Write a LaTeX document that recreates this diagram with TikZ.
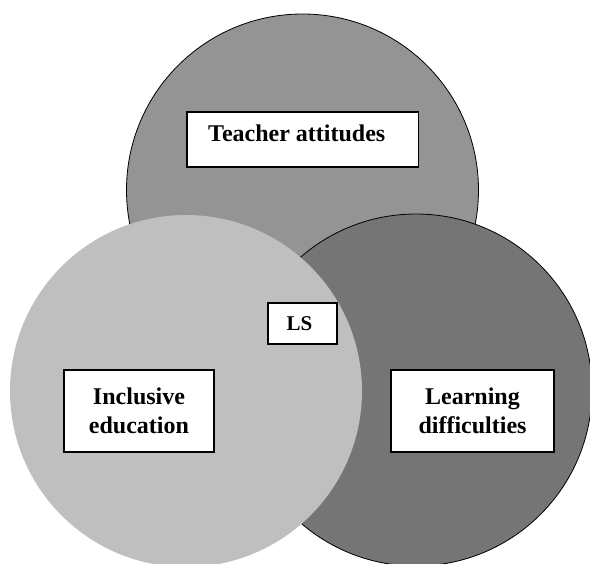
\documentclass[tikz,border=0pt]{standalone}
\usepackage{fontspec}
\setmainfont{Liberation Serif}
\begin{document}
\begin{tikzpicture}[x=1pt, y=-1pt,
	set/.style={circle, inner sep=0pt, minimum size=352pt, line width=0.8pt},
	topic/.style={draw, fill=white, line width=1.2pt, inner sep=2pt, align=center,
		font=\fontsize{24}{29}\selectfont\bfseries}]
	\useasboundingbox (0,0) rectangle (590,564);
	\begin{scope}
		\clip (0,0) rectangle (590,564);
		\node[set, draw, fill=black!42] (attitudes) at (302.5,190) {};
		\node[set, draw, fill=black!54] (difficulties) at (416,390) {};
		\node[set, fill=black!25] (inclusion) at (186,391) {};
	\end{scope}
	
	\node[topic, minimum width=231.5pt, minimum height=55pt, text depth=13pt] (ta) at (302.75,139.5) {Teacher attitudes\hspace*{12pt}};
	\node[topic, minimum width=69pt, minimum height=41pt, font=\fontsize{21}{25}\selectfont\bfseries] (ls) at (302.5,323.5) {LS\hspace*{6pt}};
	\node[topic, minimum width=150pt, minimum height=82pt] (ie) at (139,411) {Inclusive\\education};
	\node[topic, minimum width=163pt, minimum height=82pt] (ld) at (472.5,411) {Learning\\difficulties};
\end{tikzpicture}
\end{document}
